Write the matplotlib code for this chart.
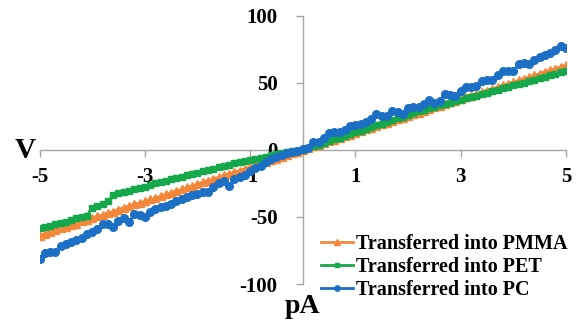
import numpy as np
import matplotlib
matplotlib.use("Agg")
import matplotlib.pyplot as plt

current = np.arange(-50, 51) / 10.0

pmma = [-64, -62.5, -61.5, -60, -58.5, -57.5, -56, -55, -53, -52,
        -51, -49.5, -48.5, -47, -46, -44.5, -43, -42, -40.5, -39.5,
        -38.5, -37, -36, -34.5, -33, -32, -30.5, -29.5, -28, -27,
        -25.5, -24, -23, -21.5, -20.5, -19, -18, -16.5, -15.5, -14,
        -13, -11.5, -10, -9, -7.5, -6.5, -5, -4, -2.5, -1.5,
        0,
        1.2, 2.5, 3.7, 5, 6.3, 7.6, 8.9, 10.1, 11.4, 12.6,
        13.9, 15.2, 16.4, 17.7, 19, 20.2, 21.5, 22.7, 24, 25.3,
        26.5, 27.8, 29, 30.3, 31.6, 32.8, 34.1, 35.3, 36.6, 37.9,
        39.1, 40.4, 41.7, 42.9, 44.2, 45.5, 46.7, 48, 49.3, 50.5,
        51.8, 53, 54.3, 55.6, 56.8, 58.1, 59.4, 60.6, 61.9, 63.2]

pet = [-58.5, -57.5, -56.5, -55.5, -54.5, -53.5, -52.5, -51, -50, -49,
       -43, -41.5, -40, -38.5, -34, -32.5, -31.5, -30.5, -29.5, -28.5,
       -27.5, -26, -25, -24, -23, -22, -21, -20, -19, -18,
       -17, -16, -15, -14, -13, -12, -11, -10, -9, -8.2,
       -7.4, -6.6, -5.8, -5, -4.2, -3.4, -2.6, -1.9, -1.2, -0.6,
       0,
       1.3, 2.6, 3.9, 5.2, 6.5, 7.8, 9.1, 10.4, 11.7, 13,
       14.3, 15.6, 16.9, 18.2, 19.5, 20.8, 22.1, 23.4, 24.7, 26,
       27.3, 28.6, 29.8, 30.9, 32, 33.1, 34.1, 35.2, 36.2, 37.3,
       38.4, 39.4, 40.5, 41.5, 42.6, 43.7, 44.8, 45.9, 47, 48,
       49.1, 50.2, 51.3, 52.4, 53.5, 54.6, 55.7, 56.8, 57.9, 59]

pc = [-81.5, -77, -76, -76.5, -71.5, -70, -68.5, -67.5, -66, -62.5,
      -61, -59, -55.5, -55.5, -57.5, -53, -50.5, -54, -48, -48.5,
      -50, -46, -44, -42.5, -41.5, -40.5, -38.5, -37, -35.5, -34,
      -33, -31.5, -31.5, -28, -25, -23.5, -27, -22, -20.5, -19,
      -15.5, -13.5, -11.7, -9, -6.7, -5.5, -3.5, -2.5, -1.5, -0.5,
      0.5,
      1.5, 5.5, 5.7, 8.5, 12.5, 13.2, 13.2, 15, 17.5, 18.5,
      19.4, 20.5, 23, 26.5, 25, 25.5, 29, 28, 27, 31,
      32, 32, 34.5, 36.8, 35, 36.5, 41.5, 41, 40.5, 44,
      47, 47, 47.5, 51.5, 52, 52, 55.5, 59, 58.5, 58.5,
      64, 64.5, 64, 67, 69.5, 70.4, 72, 74.5, 77.5, 76]

labels = ["Transferred into PMMA", "Transferred into PET", "Transferred into PC"]
xticks = [-5, -3, -1, 1, 3, 5]
yticks = [-100, -50, 0, 50, 100]

plt.rcParams['font.family'] = ['Liberation Serif', 'DejaVu Serif']
plt.rcParams['font.weight'] = 'bold'

fig = plt.figure(figsize=(5.76, 3.22), dpi=100)
ax = fig.add_axes([39.5/576, 1-284/322, (566-39.5)/576, (284-15.7)/322])

ax.plot(current, pmma, color='#F3873A', marker='^', ms=5.5, lw=2, label=labels[0])
ax.plot(current, pet, color='#14A84B', marker='s', ms=5, lw=2, label=labels[1])
ax.plot(current, pc, color='#1B6FC4', marker='o', ms=5.5, lw=2, label=labels[2])

ax.set_xlim(-5, 5)
ax.set_ylim(-100, 100)
ax.spines['left'].set_position(('data', 0))
ax.spines['bottom'].set_position(('data', 0))
ax.spines['top'].set_visible(False)
ax.spines['right'].set_visible(False)
for s in ('left', 'bottom'):
    ax.spines[s].set_color('#A6A6A6')
    ax.spines[s].set_linewidth(1.0)
    ax.spines[s].set_zorder(0.5)
ax.xaxis.set_zorder(1)
ax.yaxis.set_zorder(1)

ax.set_xticks(xticks)
ax.set_xticklabels([str(v) for v in xticks])
ax.set_yticks(yticks)
ax.set_yticklabels([str(v) for v in yticks])
ax.tick_params(axis='x', direction='out', length=5, width=1, color='#A6A6A6',
               pad=7, labelsize=15)
ax.tick_params(axis='y', direction='out', length=5, width=1, color='#A6A6A6',
               pad=13, labelsize=15)
for t in ax.get_xticklabels() + ax.get_yticklabels():
    t.set_fontweight('bold')

fig.text(25/576, 1-150/322, "V", fontsize=21, fontweight='bold', ha='center', va='center')
fig.text(302/576, 1-313/322, "pA", fontsize=20, fontweight='bold', ha='center', va='baseline')

leg = ax.legend(loc='center left', bbox_to_anchor=(321/576, 1-267/322),
                bbox_transform=fig.transFigure, frameon=False,
                prop={'family': 'Liberation Serif', 'weight': 'bold', 'size': 14.5},
                handlelength=1.6, handletextpad=0.15, labelspacing=0.17,
                borderpad=0, borderaxespad=0, markerscale=0.7)

fig.savefig("out.png", dpi=100)
